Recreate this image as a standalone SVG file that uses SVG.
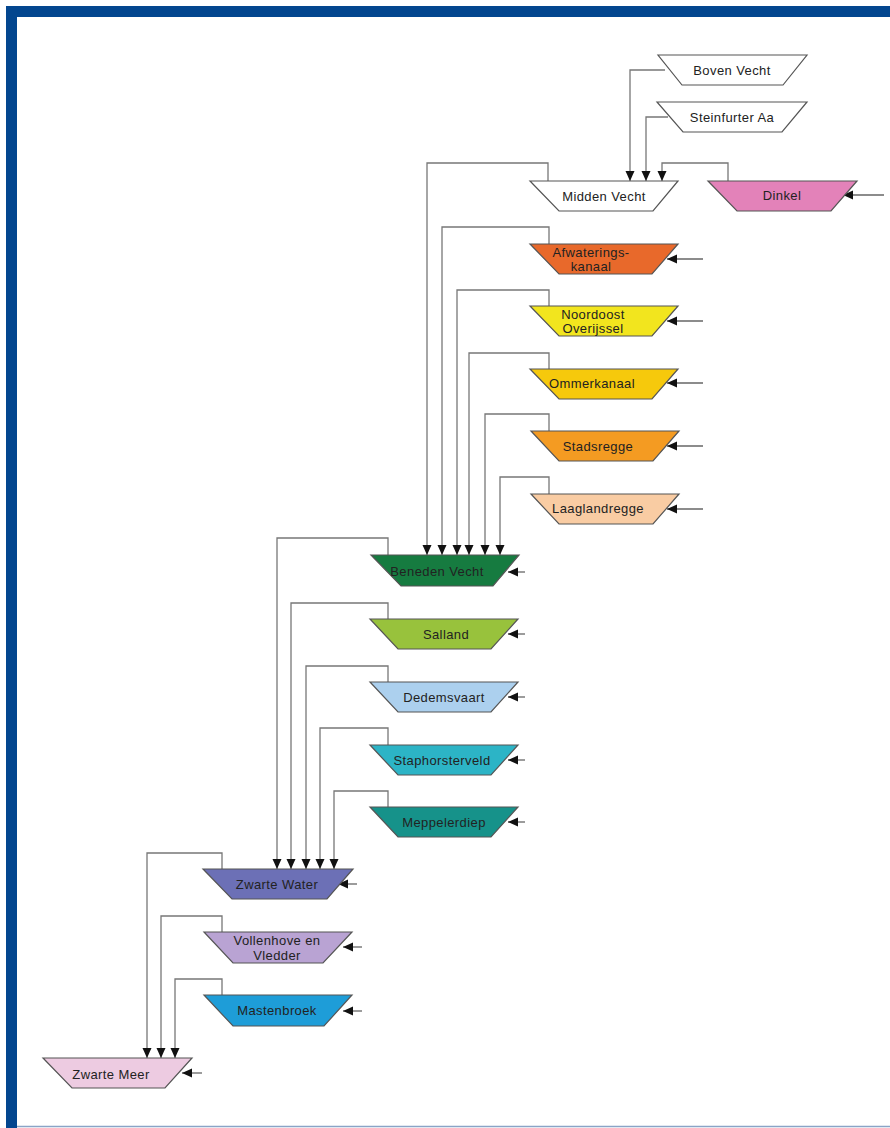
<svg xmlns="http://www.w3.org/2000/svg" width="890" height="1128" viewBox="0 0 890 1128">
<defs>
<marker id="ah" markerUnits="userSpaceOnUse" markerWidth="11" markerHeight="10" refX="10" refY="4.5" orient="auto"><path d="M0,0 L10,4.5 L0,9 z" fill="#111"/></marker>
<style>
.n{stroke:#555;stroke-width:1.2}
.t{font-family:"Liberation Sans",Arial,sans-serif;font-size:13px;letter-spacing:0.4px;fill:#222;text-anchor:middle}
.c{fill:none;stroke:#777;stroke-width:1.3;marker-end:url(#ah)}
.i{fill:none;stroke:#666;stroke-width:1.3;marker-end:url(#ah)}
</style>
</defs>
<rect width="890" height="1128" fill="#fff"/>
<g id="frame">
<rect x="6" y="6" width="884" height="11" fill="#03468f"/>
<rect x="6" y="6" width="11" height="1122" fill="#03468f"/>
<line x1="17" y1="1126.5" x2="890" y2="1126.5" stroke="#8aa4c6" stroke-width="1.5"/>
</g>
<g id="connectors">
<path class="c" d="M665,70 H630 V181"/>
<path class="c" d="M668,117 H646 V181"/>
<path class="c" d="M728,181 V163 H662 V181"/>
<path class="c" d="M548,181 V163 H427 V555"/>
<path class="c" d="M549,244 V227 H442 V555"/>
<path class="c" d="M549,306 V290 H457 V555"/>
<path class="c" d="M549,369 V353 H469 V555"/>
<path class="c" d="M549,431 V414 H485 V555"/>
<path class="c" d="M549,494 V477 H500 V555"/>
<path class="c" d="M388,555 V538 H277 V869"/>
<path class="c" d="M388,619 V603 H291 V869"/>
<path class="c" d="M388,682 V666 H306 V869"/>
<path class="c" d="M388,745 V728 H320 V869"/>
<path class="c" d="M388,807 V791 H334 V869"/>
<path class="c" d="M222,869 V853 H147 V1058"/>
<path class="c" d="M222,932 V916 H161 V1058"/>
<path class="c" d="M222,995 V979 H175 V1058"/>
<path class="i" d="M884,195 H843"/>
<path class="i" d="M703,259 H667"/>
<path class="i" d="M703,321 H667"/>
<path class="i" d="M703,383 H667"/>
<path class="i" d="M703,446 H667"/>
<path class="i" d="M703,509 H667"/>
<path class="i" d="M525,572 H508"/>
<path class="i" d="M525,634 H508"/>
<path class="i" d="M525,697 H508"/>
<path class="i" d="M525,760 H508"/>
<path class="i" d="M525,822 H508"/>
<path class="i" d="M357,884 H338"/>
<path class="i" d="M362,947 H343"/>
<path class="i" d="M362,1011 H343"/>
<path class="i" d="M202,1073 H182"/>
</g>
<g id="boven-vecht" transform="translate(658,55)"><polygon class="n" fill="#fff" points="0,0 149,0 125,30 24,30"/><text class="t" x="74" y="20">Boven Vecht</text></g>
<g id="steinfurter-aa" transform="translate(657,102)"><polygon class="n" fill="#fff" points="0,0 150,0 125,30 26,30"/><text class="t" x="75" y="20">Steinfurter Aa</text></g>
<g id="midden-vecht" transform="translate(530,181)"><polygon class="n" fill="#fff" points="0,0 148,0 123,30 29,30"/><text class="t" x="74" y="20">Midden Vecht</text></g>
<g id="dinkel" transform="translate(708,181)"><polygon class="n" fill="#e382b9" points="0,0 149,0 123,30 29,30"/><text class="t" x="74" y="19">Dinkel</text></g>
<g id="afwateringskanaal" transform="translate(530,244)"><polygon class="n" fill="#e8692b" points="0,0 148,0 122,30 29,30"/><text class="t" x="61" y="13">Afwaterings-</text><text class="t" x="61" y="27">kanaal</text></g>
<g id="noordoost-overijssel" transform="translate(530,306)"><polygon class="n" fill="#f2e51e" points="0,0 148,0 122,30 29,30"/><text class="t" x="63" y="13">Noordoost</text><text class="t" x="63" y="27">Overijssel</text></g>
<g id="ommerkanaal" transform="translate(530,369)"><polygon class="n" fill="#f6c90c" points="0,0 148,0 122,30 29,30"/><text class="t" x="62" y="19">Ommerkanaal</text></g>
<g id="stadsregge" transform="translate(531,431)"><polygon class="n" fill="#f49b22" points="0,0 148,0 122,30 28,30"/><text class="t" x="67" y="20">Stadsregge</text></g>
<g id="laaglandregge" transform="translate(531,494)"><polygon class="n" fill="#f9cca3" points="0,0 148,0 122,30 28,30"/><text class="t" x="67" y="19">Laaglandregge</text></g>
<g id="beneden-vecht" transform="translate(371,555)"><polygon class="n" fill="#167b40" points="0,0 148,0 122,31 30,31"/><text class="t" x="66" y="21">Beneden Vecht</text></g>
<g id="salland" transform="translate(370,619)"><polygon class="n" fill="#98c23c" points="0,0 148,0 121,30 28,30"/><text class="t" x="76" y="20">Salland</text></g>
<g id="dedemsvaart" transform="translate(370,682)"><polygon class="n" fill="#acd0ee" points="0,0 148,0 121,30 28,30"/><text class="t" x="74" y="20">Dedemsvaart</text></g>
<g id="staphorsterveld" transform="translate(370,745)"><polygon class="n" fill="#2cb4c6" points="0,0 148,0 121,30 28,30"/><text class="t" x="72" y="20">Staphorsterveld</text></g>
<g id="meppelerdiep" transform="translate(370,807)"><polygon class="n" fill="#16928a" points="0,0 148,0 121,30 28,30"/><text class="t" x="74" y="20">Meppelerdiep</text></g>
<g id="zwarte-water" transform="translate(203,869)"><polygon class="n" fill="#6c70b6" points="0,0 150,0 124,30 29,30"/><text class="t" x="74" y="20">Zwarte Water</text></g>
<g id="vollenhove-en-vledder" transform="translate(204,932)"><polygon class="n" fill="#b9a3d3" points="0,0 148,0 119,31 29,31"/><text class="t" x="73" y="13">Vollenhove en</text><text class="t" x="73" y="28">Vledder</text></g>
<g id="mastenbroek" transform="translate(204,995)"><polygon class="n" fill="#1e9dd8" points="0,0 148,0 120,31 29,31"/><text class="t" x="73" y="20">Mastenbroek</text></g>
<g id="zwarte-meer" transform="translate(43,1058)"><polygon class="n" fill="#edcbe1" points="0,0 149,0 122,30 29,30"/><text class="t" x="68" y="21">Zwarte Meer</text></g>
</svg>
